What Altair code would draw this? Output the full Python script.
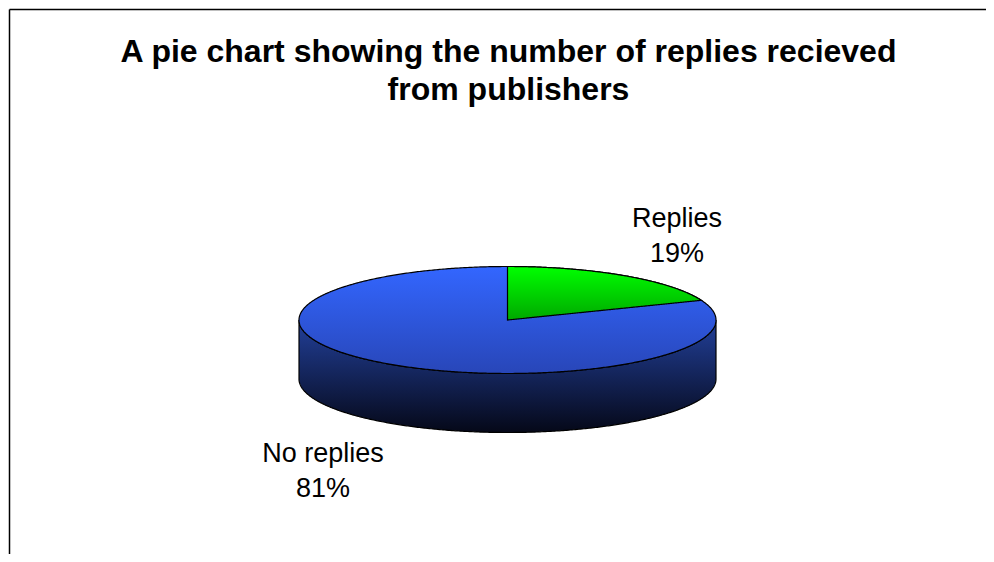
import numpy as np
import pandas as pd
import altair as alt

# ---- data ----
categories = ["Replies", "No replies"]
percents = [19, 81]
title_lines = ["A pie chart showing the number of replies recieved", "from publishers"]

# ---- layout (page pixel coordinates) ----
W, H = 978, 546          # svg size (page minus 8px margins)
CX, CY = 507.5, 320.0    # centre of the top face
RA, RB = 208.5, 53.5     # ellipse semi-axes of the tilted pie
DEPTH = 59.0             # thickness of the pie
LABEL_POS = {"Replies": (677, 227), "No replies": (323, 462)}
FONT = "Liberation Sans"

# ---- derived geometry (computed from the percentages) ----
t = np.linspace(np.pi, 0, 361)
top_face = pd.DataFrame({
    "x": CX + RA * np.cos(t),
    "y": CY - RB * np.sin(t),
    "y2": CY + RB * np.sin(t),
})
side = pd.DataFrame({
    "x": CX + RA * np.cos(t),
    "y": CY + RB * np.sin(t),
    "y2": CY + DEPTH + RB * np.sin(t),
})

# first slice starts at 12 o'clock and runs clockwise
start = np.pi / 2
end = start - 2 * np.pi * percents[0] / sum(percents)
ts = np.linspace(start, end, 200)
xe, ye = CX + RA * np.cos(end), CY - RB * np.sin(end)
xs = CX + RA * np.cos(ts)
wedge = pd.DataFrame({
    "x": xs,
    "y": CY - RB * np.sin(ts),
    "y2": CY + (ye - CY) * (xs - CX) / (xe - CX),
})

labels = pd.DataFrame({
    "label": [f"{c}\n{p}%" for c, p in zip(categories, percents)],
    "x": [LABEL_POS[c][0] for c in categories],
    "y": [LABEL_POS[c][1] for c in categories],
})
title_df = pd.DataFrame({"label": ["\n".join(title_lines)], "x": [508.5], "y": [62]})
frame = pd.DataFrame({"x": [9.5, 9.5], "x2": [8 + W, 9.5], "y": [9.5, 9.5], "y2": [9.5, 8 + H]})

xs_scale = alt.Scale(domain=[8, 8 + W], nice=False, zero=False)
ys_scale = alt.Scale(domain=[8, 8 + H], nice=False, zero=False, reverse=True)
X = alt.X("x:Q", scale=xs_scale, axis=None)
Y = alt.Y("y:Q", scale=ys_scale, axis=None)


def grad(c0, c1):
    return alt.LinearGradient(
        gradient="linear",
        stops=[alt.GradientStop(color=c0, offset=0), alt.GradientStop(color=c1, offset=1)],
        x1=0, x2=0, y1=0, y2=1,
    )


side_layer = alt.Chart(side).mark_area(
    orient="vertical", fill=grad("#22409A", "#050818"), stroke="black", strokeWidth=1.2
).encode(x=X, y=Y, y2="y2:Q")

top_layer = alt.Chart(top_face).mark_area(
    orient="vertical", fill=grad("#3366FF", "#2846B8"), stroke="black", strokeWidth=1.2
).encode(x=X, y=Y, y2="y2:Q")

wedge_layer = alt.Chart(wedge).mark_area(
    orient="vertical", fill=grad("#00FF00", "#00A800"), stroke="black", strokeWidth=1.2
).encode(x=X, y=Y, y2="y2:Q")

label_layer = alt.Chart(labels).mark_text(
    font=FONT, fontSize=27, color="black", align="center", baseline="alphabetic",
    lineBreak="\n", lineHeight=35
).encode(x=X, y=Y, text="label:N")

title_layer = alt.Chart(title_df).mark_text(
    font=FONT, fontSize=32, fontWeight="bold", color="black", align="center",
    baseline="alphabetic", lineBreak="\n", lineHeight=38
).encode(x=X, y=Y, text="label:N")

frame_layer = alt.Chart(frame).mark_rule(color="black", strokeWidth=1.5).encode(
    x=X, x2="x2:Q", y=Y, y2="y2:Q"
)

chart = alt.layer(
    frame_layer, side_layer, top_layer, wedge_layer, label_layer, title_layer
).properties(
    width=W, height=H, autosize=alt.AutoSizeParams(type="none"), padding=0,
    background="white"
).configure_view(stroke=None)

chart.save("out.html", embed_options={"renderer": "svg", "actions": False})
